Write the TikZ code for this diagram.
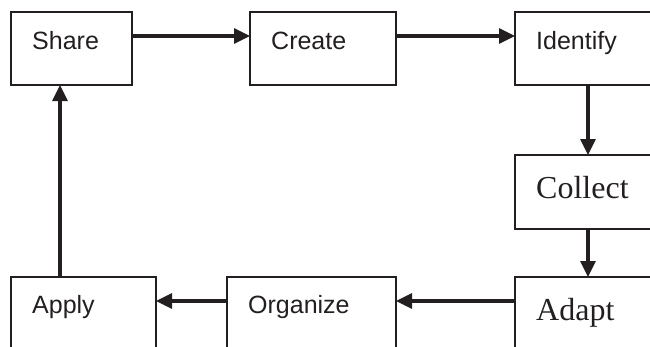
\documentclass[tikz,border=0pt]{standalone}
\usepackage{fontspec}
\setmainfont{Liberation Sans}
\newfontfamily\serifface{Liberation Serif}
\usetikzlibrary{arrows.meta,calc}
\definecolor{ink}{RGB}{35,31,32}
\begin{document}
\begin{tikzpicture}[x=1pt,y=-1pt,
  box/.style={draw=ink, line width=2.4pt, rectangle, anchor=north west, inner sep=0pt, outer sep=0pt},
  lbl/.style={anchor=base west, inner sep=0pt, text=ink, font=\fontsize{25}{30}\selectfont},
  slbl/.style={anchor=base west, inner sep=0pt, text=ink, font=\serifface\fontsize{32}{38}\selectfont},
  arr/.style={draw=ink, line width=3.2pt, -{Triangle[length=16pt,width=15pt]}}]
\useasboundingbox (0,0) rectangle (650,346);
\clip (0,0) rectangle (650,346);
% boxes
\node[box, minimum width=121pt, minimum height=73pt] (share) at (11,12) {};
\node[box, minimum width=146pt, minimum height=73pt] (create) at (250,12) {};
\node[box, minimum width=200pt, minimum height=73pt] (identify) at (515,12) {};
\node[box, minimum width=200pt, minimum height=74pt] (collect) at (515,155) {};
\node[box, minimum width=200pt, minimum height=120pt] (adapt) at (515,277) {};
\node[box, minimum width=169pt, minimum height=120pt] (organize) at (227,277) {};
\node[box, minimum width=145pt, minimum height=120pt] (apply) at (11,277) {};
% labels
\node[lbl] (tshare) at ($(share.north west)+(21,37)$) {Share};
\node[lbl] (tcreate) at ($(create.north west)+(21,37)$) {Create};
\node[lbl] (tidentify) at ($(identify.north west)+(21,37)$) {Identify};
\node[slbl] (tcollect) at ($(collect.north west)+(21,43)$) {Collect};
\node[slbl] (tadapt) at ($(adapt.north west)+(21,43)$) {Adapt};
\node[lbl] (torganize) at ($(organize.north west)+(21,36)$) {Organize};
\node[lbl] (tapply) at ($(apply.north west)+(21,36)$) {Apply};
% arrows
\draw[arr] ($(share.north east)+(0,24)$) -- ($(create.north west)+(0,24)$);
\draw[arr] ($(create.north east)+(0,24)$) -- ($(identify.north west)+(0,24)$);
\draw[arr] ($(identify.south west)+(73,0)$) -- ($(collect.north west)+(73,0)$);
\draw[arr] ($(collect.south west)+(73,0)$) -- ($(adapt.north west)+(73,0)$);
\draw[arr] ($(adapt.north west)+(0,24)$) -- ($(organize.north east)+(0,24)$);
\draw[arr] ($(organize.north west)+(0,24)$) -- ($(apply.north east)+(0,24)$);
\draw[arr] ($(apply.north west)+(49,0)$) -- ($(share.south west)+(49,0)$);
\end{tikzpicture}
\end{document}
